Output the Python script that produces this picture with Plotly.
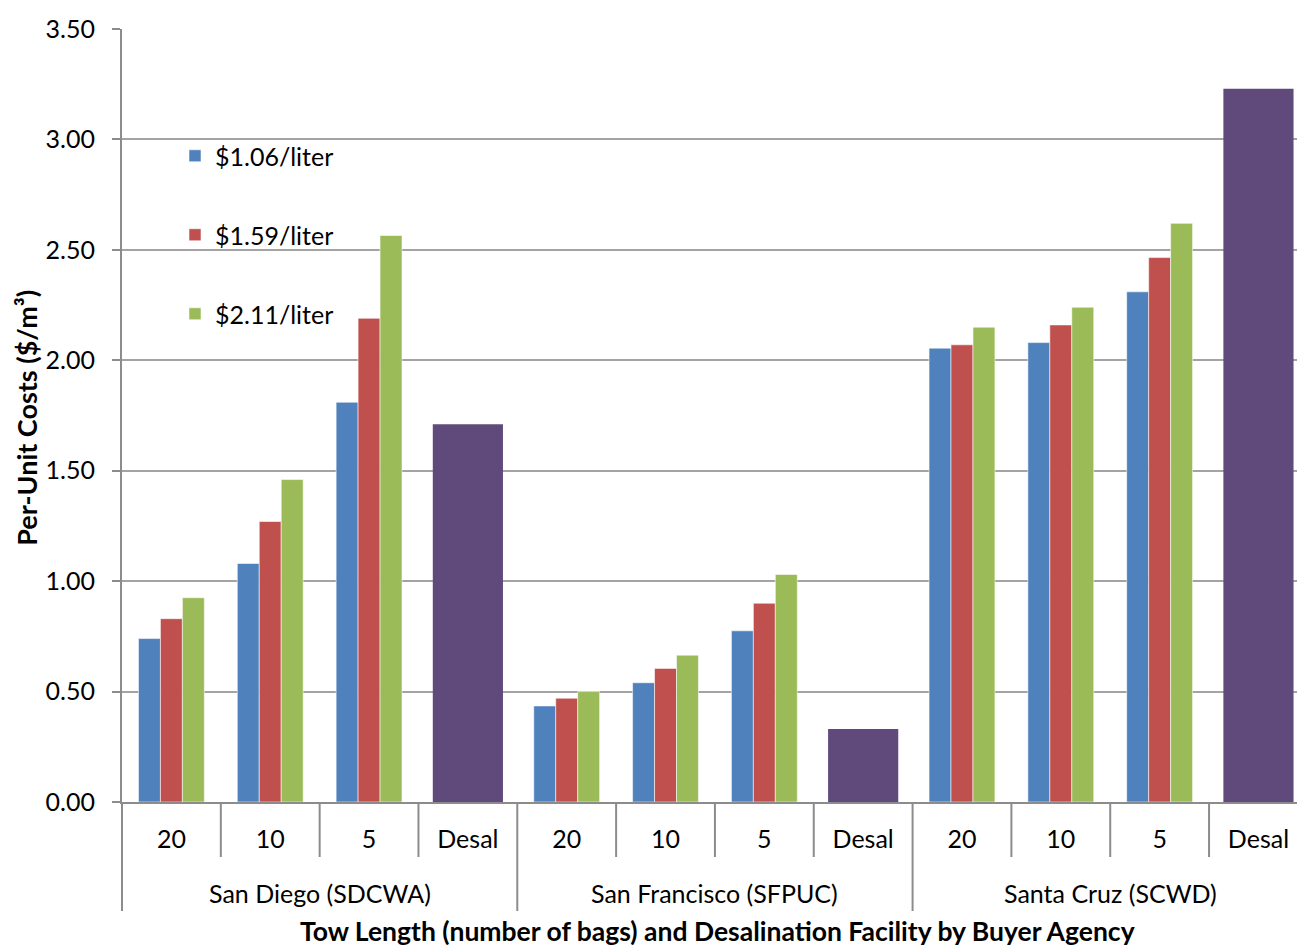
import plotly.graph_objects as go

# ---- data ----
tow_labels = ["20", "10", "5", "Desal", "20", "10", "5", "Desal", "20", "10", "5", "Desal"]
agencies = ["San Diego (SDCWA)", "San Francisco (SFPUC)", "Santa Cruz (SCWD)"]
series_names = ["$1.06/liter", "$1.59/liter", "$2.11/liter"]
cost_106 = [0.74, 1.08, 1.81, None, 0.435, 0.54, 0.775, None, 2.055, 2.08, 2.31, None]
cost_159 = [0.83, 1.27, 2.19, None, 0.47, 0.605, 0.90, None, 2.07, 2.16, 2.465, None]
cost_211 = [0.925, 1.46, 2.565, None, 0.50, 0.665, 1.03, None, 2.15, 2.24, 2.62, None]
desal_idx = [3, 7, 11]
desal_cost = [1.71, 0.33, 3.23]
y_ticks = [0, 0.5, 1.0, 1.5, 2.0, 2.5, 3.0, 3.5]

colors = ["#4F81BD", "#C0504D", "#9BBB59"]
purple = "#604A7B"
FONT = "Lato"
GRAY = "#8c8c8c"

W, H = 1297, 945
L, T, B = 122, 29, 143
PW = W - L
H_PLOT = H - T - B  # 773

x_idx = list(range(len(tow_labels)))
fig = go.Figure()
bw = 2 / 9
for i, (name, vals) in enumerate(zip(series_names, [cost_106, cost_159, cost_211])):
    fig.add_trace(go.Bar(
        x=x_idx, y=vals, name=name,
        width=bw, offset=-1 / 3 + i * bw,
        marker=dict(color=colors[i], line=dict(color="rgba(255,255,255,0.55)", width=1)),
        legendgroup=name,
    ))
fig.add_trace(go.Bar(
    x=desal_idx, y=desal_cost, name="Desal", showlegend=False,
    width=0.71, offset=-0.355,
    marker=dict(color=purple, line=dict(width=0)),
))

shapes = []
shapes.append(dict(type="line", xref="paper", yref="paper", x0=0, x1=0, y0=0, y1=-109 / H_PLOT,
                   line=dict(color=GRAY, width=2)))
for k in range(1, 12):
    xb = k - 0.5
    long = (k % 4 == 0)
    shapes.append(dict(type="line", xref="x", yref="paper", x0=xb, x1=xb, y0=0,
                       y1=(-109 if long else -55) / H_PLOT,
                       line=dict(color=GRAY, width=2)))

annotations = []
for g, ag in enumerate(agencies):
    annotations.append(dict(x=g * 4 + 1.5, xref="x", y=-91 / H_PLOT, yref="paper",
                            text=ag, showarrow=False, xanchor="center", yanchor="middle",
                            font=dict(family=FONT, size=25, color="black")))
annotations.append(dict(x=(717.5 - 122) / PW, xref="paper", y=-129 / H_PLOT, yref="paper",
                        text="<b>Tow Length (number of bags) and Desalination Facility by Buyer Agency</b>",
                        showarrow=False, xanchor="center", yanchor="middle",
                        font=dict(family=FONT, size=26.5, color="black")))
annotations.append(dict(x=(27 - 122) / PW, xref="paper", y=0.497, yref="paper",
                        text="<b>Per-Unit Costs ($/m³)</b>", textangle=-90,
                        showarrow=False, xanchor="center", yanchor="middle",
                        font=dict(family=FONT, size=27, color="black")))

fig.update_layout(
    width=W, height=H,
    margin=dict(l=L, r=0, t=T, b=B, pad=0),
    paper_bgcolor="white", plot_bgcolor="white",
    barmode="overlay",
    font=dict(family=FONT, size=25, color="black"),
    showlegend=True,
    legend=dict(x=(175 - 122) / PW, xanchor="left", y=(802 - 133) / H_PLOT, yanchor="top",
                traceorder="grouped", tracegroupgap=43.5, bgcolor="rgba(0,0,0,0)",
                font=dict(family=FONT, size=25, color="black")),
    xaxis=dict(range=[-0.5, 11.39], tickvals=x_idx, ticktext=tow_labels,
               showgrid=False, zeroline=False, showline=True, linecolor=GRAY, linewidth=2,
               ticks="", ticklabelstandoff=14, tickfont=dict(family=FONT, size=25, color="black"),
               fixedrange=True),
    yaxis=dict(range=[0, 3.5], tickvals=y_ticks, tickformat=".2f",
               showgrid=True, gridcolor="#a3a3a3", gridwidth=1.5, zeroline=False,
               showline=True, linecolor=GRAY, linewidth=2,
               ticks="outside", ticklen=8, tickwidth=2, tickcolor=GRAY,
               ticklabelstandoff=12, tickfont=dict(family=FONT, size=25, color="black")),
    shapes=shapes,
    annotations=annotations,
)

fig.write_html(
    "out.html",
    config={"displayModeBar": False},
    post_script="document.body.style.margin='0';document.body.style.overflow='hidden';",
)
